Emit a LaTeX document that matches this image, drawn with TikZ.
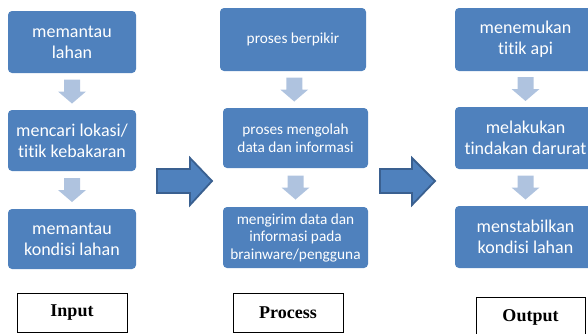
\documentclass[tikz,border=0pt]{standalone}
\usepackage{fontspec}
\setmainfont{Carlito}[Ligatures={NoCommon,NoContextual}]
\newfontfamily\serifb{Liberation Serif}
\usetikzlibrary{calc}
\definecolor{boxblue}{HTML}{4F81BD}
\definecolor{lightarrow}{HTML}{AFC3DF}
\definecolor{darkedge}{HTML}{3A6090}
\newcommand{\downarrowshape}[2]{%
  \fill[lightarrow] ($(#1.south)!0.5!(#2.north)$) ++(-8,-12) -- ++(16,0) -- ++(0,12) -- ++(6,0) -- ++(-14,12) -- ++(-14,-12) -- ++(6,0) -- cycle;}
\begin{document}
\begin{tikzpicture}[x=1pt,y=-1pt,
  stepbox/.style={fill=boxblue, draw=none, rounded corners=4pt, text=white, align=center, inner sep=0pt},
  bigfont/.style={font=\fontsize{18}{21}\selectfont},
  midfont/.style={font=\fontsize{15.3}{17.5}\selectfont},
  labelbox/.style={draw=black, line width=0.9pt, fill=white, font=\serifb\bfseries\fontsize{18}{21}\selectfont, inner sep=0pt, minimum width=110pt, minimum height=39pt},
  bigarrow/.style={fill=boxblue, draw=darkedge, line width=1.8pt, line join=miter}]
\useasboundingbox (0,0) rectangle (588,333);
\clip (0,0) rectangle (588,333);
% left column
\node[stepbox, bigfont, minimum width=128pt, minimum height=62pt] (l1) at (72,42) {memantau\\lahan};
\node[stepbox, bigfont, minimum width=128pt, minimum height=61pt] (l2) at (72,140.5) {mencari lokasi/\\titik kebakaran};
\node[stepbox, bigfont, minimum width=128pt, minimum height=60pt] (l3) at (72,239) {memantau\\kondisi lahan};
% middle column
\node[stepbox, midfont, minimum width=146pt, minimum height=63pt] (m1) at (293,39.5) {proses berpikir};
\node[stepbox, midfont, minimum width=145pt, minimum height=60pt] (m2) at (295.5,138) {proses mengolah\\data dan informasi};
\node[stepbox, midfont, minimum width=145pt, minimum height=61pt] (m3) at (295.5,237.5) {mengirim data dan\\informasi pada\\brainware/pengguna};
% right column
\node[stepbox, bigfont, minimum width=141pt, minimum height=63pt] (r1) at (525.5,39.5) {menemukan\\titik api};
\node[stepbox, bigfont, minimum width=141pt, minimum height=62pt] (r2) at (525.5,138) {melakukan\\tindakan darurat};
\node[stepbox, bigfont, minimum width=141pt, minimum height=62pt] (r3) at (525.5,237) {menstabilkan\\kondisi lahan};
% small arrows
\downarrowshape{l1}{l2}
\downarrowshape{l2}{l3}
\downarrowshape{m1}{m2}
\downarrowshape{m2}{m3}
\downarrowshape{r1}{r2}
\downarrowshape{r2}{r3}
% big arrows
\coordinate (ba) at (157,181);
\coordinate (bb) at (380,181);
\draw[bigarrow] (ba) ++(0,-12) -- ++(33,0) -- ++(0,-11) -- ++(22,23) -- ++(-22,24) -- ++(0,-12) -- ++(-33,0) -- cycle;
\draw[bigarrow] (bb) ++(0,-12) -- ++(32,0) -- ++(0,-11) -- ++(23,23) -- ++(-23,24) -- ++(0,-12) -- ++(-32,0) -- cycle;
% labels
\node[labelbox] (lin) at (72,312.5) {Input};
\node[labelbox] (lpr) at (288,312.5) {Process};
\node[labelbox, minimum width=109pt] (lout) at (530.5,317) {Output};
\end{tikzpicture}
\end{document}
